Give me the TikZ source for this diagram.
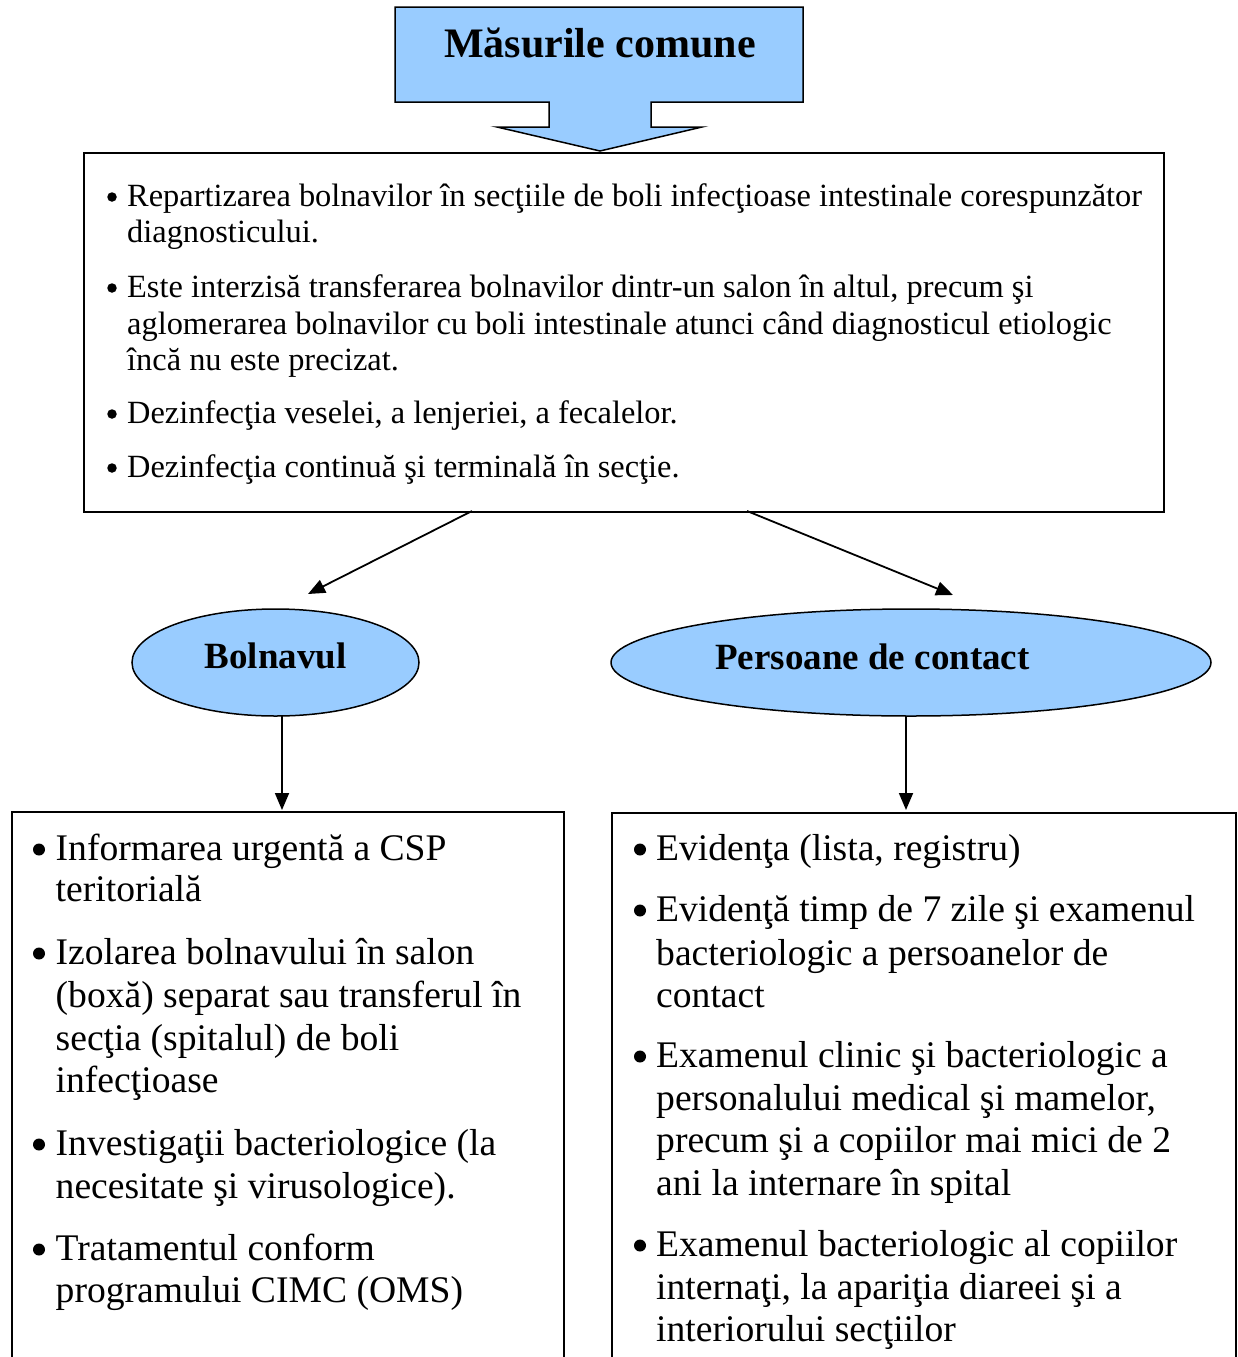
\documentclass[tikz,border=0pt]{standalone}
\usepackage{fontspec}
\setmainfont{Liberation Serif}
\usetikzlibrary{shapes.geometric,arrows.meta}
\definecolor{lblue}{RGB}{153,204,255}
\tikzset{
  boxst/.style={draw=black, line width=1.5pt, inner sep=0pt, anchor=north west},
  ell/.style={ellipse, draw=black, line width=1.5pt, fill=lblue, inner sep=0pt},
  tm/.style={anchor=base west, inner sep=0pt, font=\fontsize{32.4}{37}\selectfont},
  dm/.style={circle, fill=black, inner sep=0pt, minimum size=9.5pt},
  tb/.style={anchor=base west, inner sep=0pt, font=\fontsize{37.6}{43}\selectfont},
  db/.style={circle, fill=black, inner sep=0pt, minimum size=12pt},
  hd/.style={anchor=base, inner sep=0pt, font=\fontsize{37}{44}\selectfont\bfseries},
  arr/.style={-{Triangle[length=17pt,width=14pt]}, line width=1.8pt},
}
\begin{document}
\begin{tikzpicture}[x=1pt,y=-1pt]
\clip (0,0) rectangle (1237,1357);
\fill[white] (0,0) rectangle (1237,1357);
% title arrow shape
\draw[line width=1.5pt, fill=lblue, line join=miter]
  (395,7) -- (803,7) -- (803,102) -- (651,102) -- (651,127) -- (702,127)
  -- (600,151) -- (497,127) -- (549,127) -- (549,102) -- (395,102) -- cycle;
\node[anchor=base, inner sep=0pt, font=\fontsize{42}{50}\selectfont\bfseries] (title) at (600,57) {Măsurile comune};
% main box
\node[boxst, minimum width=1080pt, minimum height=359pt] (main) at (83,152) {};
\node[dm] (b1) at (112,197) {};
\node[tm] (m1) at (127,206) {Repartizarea bolnavilor în secţiile de boli infecţioase intestinale corespunzător};
\node[tm] (m2) at (127,242) {diagnosticului.};
\node[dm] (b2) at (112,288) {};
\node[tm] (m3) at (127,297) {Este interzisă transferarea bolnavilor dintr-un salon în altul, precum şi};
\node[tm] (m4) at (127,334) {aglomerarea bolnavilor cu boli intestinale atunci când diagnosticul etiologic};
\node[tm] (m5) at (127,370) {încă nu este precizat.};
\node[dm] (b3) at (112,414) {};
\node[tm] (m6) at (127,423) {Dezinfecţia veselei, a lenjeriei, a fecalelor.};
\node[dm] (b4) at (112,468) {};
\node[tm] (m7) at (127,477) {Dezinfecţia continuă şi terminală în secţie.};
% ellipses
\node[ell, minimum width=287pt, minimum height=107pt] (bol) at (275.5,662.5) {};
\node[hd] (bolt) at (275.5,668) {Bolnavul};
\node[ell, minimum width=600pt, minimum height=107pt] (pers) at (911,662.5) {};
\node[hd] (perst) at (872.5,669) {Persoane de contact};
% connectors
\coordinate (a1s) at (472,511);
\coordinate (a1e) at (308,594);
\coordinate (a2s) at (747,511);
\coordinate (a2e) at (953,595);
\draw[arr] (a1s) -- (a1e);
\draw[arr] (a2s) -- (a2e);
\coordinate (d1s) at (282,716);
\coordinate (d1e) at (282,810);
\coordinate (d2s) at (906,716);
\coordinate (d2e) at (906,810);
\draw[arr] (d1s) -- (d1e);
\draw[arr] (d2s) -- (d2e);
% bottom boxes
\node[boxst, minimum width=552pt, minimum height=600pt] (lbox) at (11,811) {};
\node[boxst, minimum width=624pt, minimum height=600pt] (rbox) at (611,812) {};
% left box text
\node[db] (lb1) at (39,849.5) {};
\node[tb] (l1) at (55.5,860) {Informarea urgentă a CSP};
\node[tb] (l2) at (55.5,901) {teritorială};
\node[db] (lb2) at (39,953.5) {};
\node[tb] (l3) at (55.5,964) {Izolarea bolnavului în salon};
\node[tb] (l4) at (55.5,1007) {(boxă) separat sau transferul în};
\node[tb] (l5) at (55.5,1050) {secţia (spitalul) de boli};
\node[tb] (l6) at (55.5,1092) {infecţioase};
\node[db] (lb3) at (39,1144.5) {};
\node[tb] (l7) at (55.5,1155) {Investigaţii bacteriologice (la};
\node[tb] (l8) at (55.5,1198) {necesitate şi virusologice).};
\node[db] (lb4) at (39,1249.5) {};
\node[tb] (l9) at (55.5,1260) {Tratamentul conform};
\node[tb] (l10) at (55.5,1302) {programului CIMC (OMS)};
% right box text
\node[db] (rb1) at (640,849.5) {};
\node[tb] (r1) at (656,860) {Evidenţa (lista, registru)};
\node[db] (rb2) at (640,910.5) {};
\node[tb] (r2) at (656,921) {Evidenţă timp de 7 zile şi examenul};
\node[tb] (r3) at (656,965) {bacteriologic a persoanelor de};
\node[tb] (r4) at (656,1007) {contact};
\node[db] (rb3) at (640,1056.5) {};
\node[tb] (r5) at (656,1067) {Examenul clinic şi bacteriologic a};
\node[tb] (r6) at (656,1110) {personalului medical şi mamelor,};
\node[tb] (r7) at (656,1152) {precum şi a copiilor mai mici de 2};
\node[tb] (r8) at (656,1195) {ani la internare în spital};
\node[db] (rb4) at (640,1245.5) {};
\node[tb] (r9) at (656,1256) {Examenul bacteriologic al copiilor};
\node[tb] (r10) at (656,1299) {internaţi, la apariţia diareei şi a};
\node[tb] (r11) at (656,1341) {interiorului secţiilor};
\end{tikzpicture}
\end{document}
